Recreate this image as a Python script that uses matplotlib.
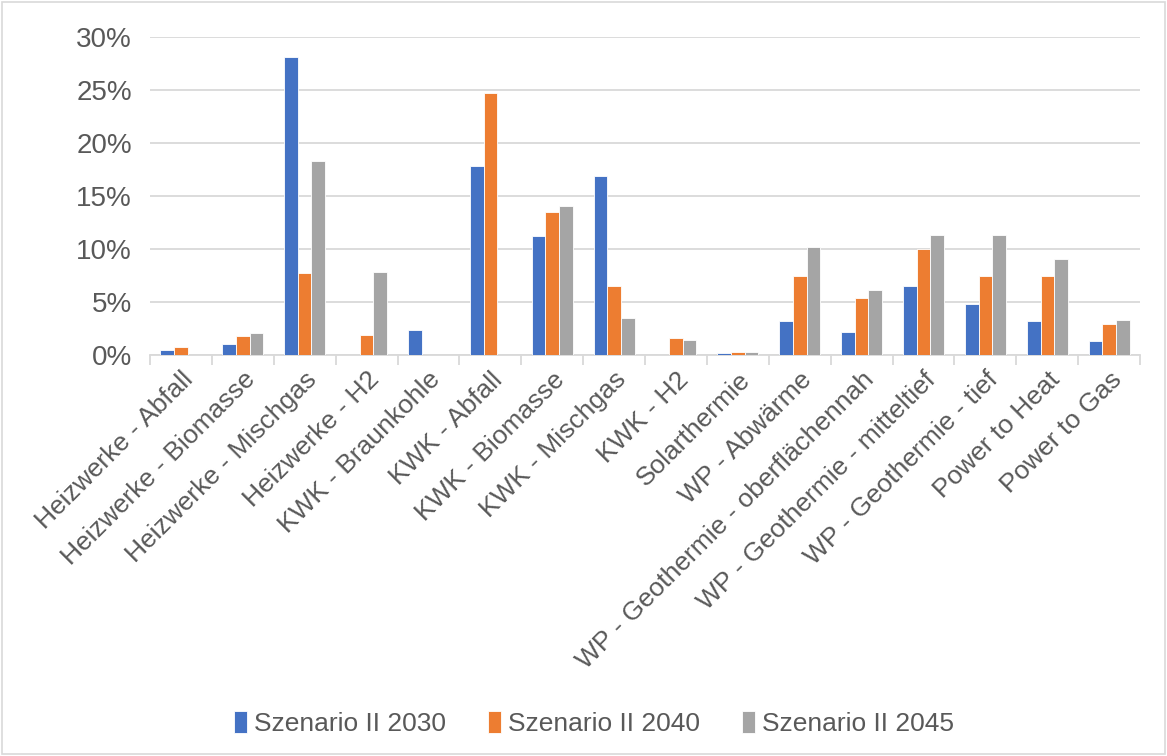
import numpy as np
import matplotlib.pyplot as plt
from matplotlib.ticker import FuncFormatter, FixedLocator

categories = [
    "Heizwerke - Abfall", "Heizwerke - Biomasse", "Heizwerke - Mischgas",
    "Heizwerke - H2", "KWK - Braunkohle", "KWK - Abfall", "KWK - Biomasse",
    "KWK - Mischgas", "KWK - H2", "Solarthermie", "WP - Abwärme",
    "WP - Geothermie - oberflächennah", "WP - Geothermie - mitteltief",
    "WP - Geothermie - tief", "Power to Heat", "Power to Gas",
]
s2030 = [0.5, 1.0, 28.1, 0.0, 2.4, 17.8, 11.2, 16.9, 0.0, 0.15, 3.2, 2.2, 6.5, 4.8, 3.2, 1.3]
s2040 = [0.8, 1.8, 7.7, 1.9, 0.0, 24.7, 13.5, 6.5, 1.6, 0.25, 7.5, 5.4, 10.0, 7.5, 7.5, 2.95]
s2045 = [0.0, 2.05, 18.3, 7.8, 0.0, 0.0, 14.1, 3.5, 1.45, 0.28, 10.2, 6.1, 11.3, 11.3, 9.05, 3.35]
series_names = ["Szenario II 2030", "Szenario II 2040", "Szenario II 2045"]
colors = ["#4472C4", "#ED7D31", "#A5A5A5"]

plt.rcParams["font.family"] = ["Liberation Sans", "DejaVu Sans"]
text_color = "#595959"
grid_color = "#D9D9D9"

fig = plt.figure(figsize=(11.67, 7.56), dpi=100)
ax = fig.add_axes([0.1285, 0.5304, 0.8485, 0.4206])

x = np.arange(len(categories))
w = 0.22
for i, (vals, name, c) in enumerate(zip([s2030, s2040, s2045], series_names, colors)):
    ax.bar(x + (i - 1) * w, np.array(vals) / 100, width=w, color=c, label=name,
           edgecolor="white", linewidth=0.6, zorder=3)

ax.set_xlim(-0.5, len(categories) - 0.5)
ax.set_ylim(0, 0.30)
ax.set_yticks(np.arange(0, 0.301, 0.05))
ax.yaxis.set_major_formatter(FuncFormatter(lambda v, p: f"{v * 100:.0f}%"))
ax.grid(axis="y", color=grid_color, linewidth=1.3, zorder=0)

for s in ["top", "right", "left"]:
    ax.spines[s].set_visible(False)
ax.spines["bottom"].set_color(grid_color)
ax.spines["bottom"].set_linewidth(1.3)

ax.tick_params(axis="y", length=0, labelsize=20, labelcolor=text_color, pad=13)
ax.set_xticks(x)
ax.set_xticklabels(categories, rotation=45, ha="right", rotation_mode="anchor",
                   fontsize=19, color=text_color)
ax.tick_params(axis="x", which="major", length=0, pad=9)
ax.xaxis.set_minor_locator(FixedLocator(np.arange(-0.5, len(categories), 1.0)))
ax.tick_params(axis="x", which="minor", length=7, width=1.3, color=grid_color)

leg = fig.legend(loc="center", bbox_to_anchor=(0.509, 0.043), ncol=3, frameon=False,
                 fontsize=19, handlelength=0.5, handleheight=0.9, handletextpad=0.25,
                 columnspacing=1.6)
for t in leg.get_texts():
    t.set_color(text_color)

border = plt.Rectangle((0.002, 0.002), 0.996, 0.996, transform=fig.transFigure,
                       fill=False, edgecolor=grid_color, linewidth=1.2)
fig.patches.append(border)

fig.savefig("out.png", dpi=100)
